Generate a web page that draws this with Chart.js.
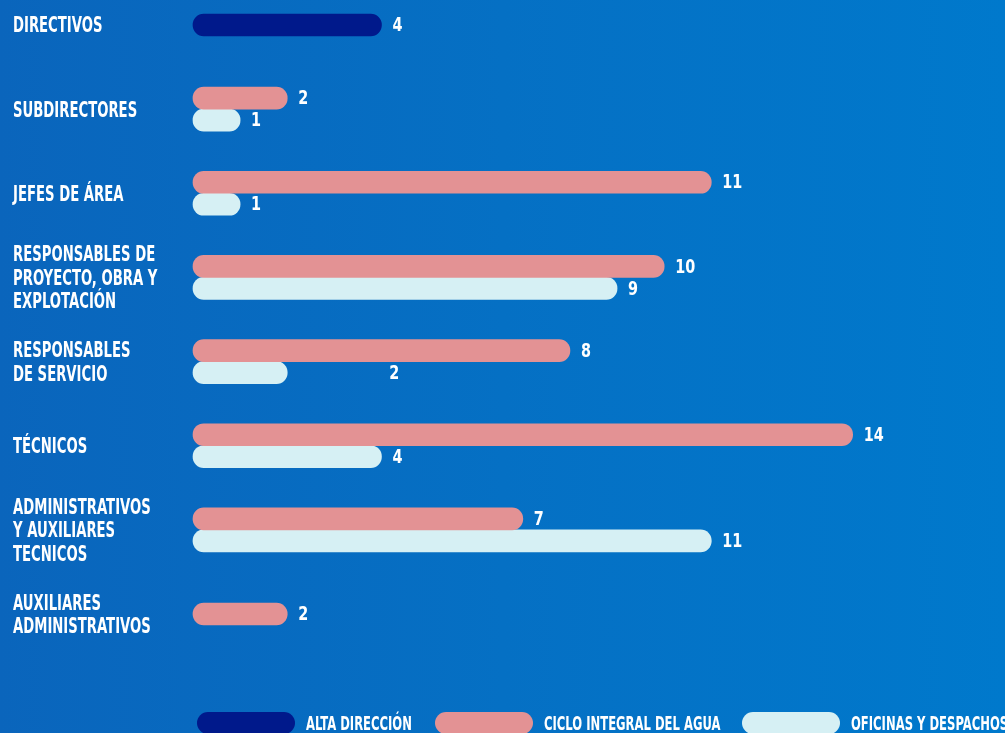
<!DOCTYPE html>
<html lang="es">
<head>
<meta charset="utf-8">
<title>Plantilla por categoría profesional</title>
<script src="https://cdn.jsdelivr.net/npm/chart.js@4.4.1/dist/chart.umd.min.js"></script>
<style>
  html, body {
    margin: 0;
    padding: 0;
    overflow: hidden;
  }
  body {
    width: 1005px;
    height: 733px;
    background: linear-gradient(90deg, #0a65bc 0%, #0570c4 50%, #0079cc 100%);
    font-family: "DejaVu Sans Condensed", "DejaVu Sans", sans-serif;
    font-weight: bold;
    position: relative;
  }
  #wrap {
    position: absolute;
    left: 0;
    top: 0;
    width: 1005px;
    height: 733px;
  }
  #legend {
    position: absolute;
    top: 712px;
    left: 0;
    width: 1005px;
    height: 30px;
  }
  .item {
    position: absolute;
    top: 0;
    display: flex;
    align-items: center;
    white-space: nowrap;
  }
  .pill {
    width: 98px;
    height: 22px;
    border-radius: 11px;
    margin-right: 11px;
  }
  .item span {
    color: #ffffff;
    font-size: 20px;
    line-height: 22px;
    display: inline-block;
    transform: scaleX(0.645);
    transform-origin: 0 50%;
  }
</style>
</head>
<body>
<div id="wrap"><canvas id="chart" width="1005" height="733"></canvas></div>
<div id="legend"></div>
<script>
// categorías profesionales (etiquetas en varias líneas)
const categories = [
    ['DIRECTIVOS'],
    ['SUBDIRECTORES'],
    ['JEFES DE ÁREA'],
    ['RESPONSABLES DE', 'PROYECTO, OBRA Y', 'EXPLOTACIÓN'],
    ['RESPONSABLES', 'DE SERVICIO'],
    ['TÉCNICOS'],
    ['ADMINISTRATIVOS', 'Y AUXILIARES', 'TECNICOS'],
    ['AUXILIARES', 'ADMINISTRATIVOS']
];

const seriesNames = ['ALTA DIRECCIÓN', 'CICLO INTEGRAL DEL AGUA', 'OFICINAS Y DESPACHOS'];

// número de personas por área
const altaDireccion = [4, null, null, null, null, null, null, null];
const cicloAgua = [null, 2, 11, 10, 8, 14, 7, 2];
const oficinas = [null, 1, 1, 9, 2, 4, 11, null];

const colors = ['#00198b', '#e39294', '#d6f0f4'];
const legendLeft = [197, 435, 742];

const FONT = '"DejaVu Sans Condensed", "DejaVu Sans", sans-serif';

// texto estrechado horizontalmente (tipografía condensada)
function condensedText(ctx, text, x, y, sx) {
    ctx.save();
    ctx.translate(x, y);
    ctx.scale(sx, 1);
    ctx.fillText(text, 0, 0);
    ctx.restore();
}

// etiquetas de categoría alineadas a la izquierda, centradas en cada tick
const categoryLabels = {
    id: 'categoryLabels',
    afterDraw(chart) {
        const ctx = chart.ctx;
        const y = chart.scales.y;
        const lineH = 23.5;
        ctx.save();
        ctx.fillStyle = '#ffffff';
        ctx.font = 'bold 21px ' + FONT;
        ctx.textAlign = 'left';
        ctx.textBaseline = 'middle';
        chart.data.labels.forEach((lines, i) => {
            const cy = y.getPixelForTick(i);
            const top = cy - (lines.length - 1) * lineH / 2;
            lines.forEach((line, k) => {
                condensedText(ctx, line, y.left, top + k * lineH + 2, 0.7);
            });
        });
        ctx.restore();
    }
};

// etiqueta del valor al final de cada barra
const valueLabels = {
    id: 'valueLabels',
    afterDatasetsDraw(chart) {
        const ctx = chart.ctx;
        ctx.save();
        ctx.fillStyle = '#ffffff';
        ctx.font = 'bold 20px ' + FONT;
        ctx.textAlign = 'left';
        ctx.textBaseline = 'middle';
        chart.data.datasets.forEach((ds, i) => {
            const meta = chart.getDatasetMeta(i);
            meta.data.forEach((bar, j) => {
                const v = ds.data[j];
                if (v === null || v === undefined) return;
                // el "2" de oficinas en responsables de servicio va desplazado
                const shift = (i === 2 && j === 4) ? 102 : 11;
                condensedText(ctx, String(v), bar.x + shift, bar.y + 1, 0.8);
            });
        });
        ctx.restore();
    }
};

const datasets = [altaDireccion, cicloAgua, oficinas].map((values, i) => ({
    label: seriesNames[i],
    data: values,
    backgroundColor: colors[i],
    borderWidth: 0,
    borderRadius: 11,
    borderSkipped: false,
    barThickness: 22,
    clip: false
}));

const chart = new Chart(document.getElementById('chart'), {
    type: 'bar',
    data: { labels: categories, datasets },
    options: {
        indexAxis: 'y',
        responsive: false,
        animation: false,
        skipNull: true,
        layout: { padding: { left: 13, top: 25, right: 11, bottom: 119 } },
        scales: {
            x: {
                display: false,
                min: 0,
                max: 17
            },
            y: {
                offset: false,
                grid: { display: false },
                border: { display: false },
                afterFit(scale) { scale.width = 180; },
                ticks: { display: false }
            }
        },
        plugins: {
            legend: { display: false },
            tooltip: { enabled: false }
        }
    },
    plugins: [valueLabels, categoryLabels]
});

// leyenda en HTML a partir de los datasets
const legendEl = document.getElementById('legend');
chart.data.datasets.forEach((ds, i) => {
    const item = document.createElement('div');
    item.className = 'item';
    item.style.left = legendLeft[i] + 'px';
    const pill = document.createElement('div');
    pill.className = 'pill';
    pill.style.background = ds.backgroundColor;
    const text = document.createElement('span');
    text.textContent = ds.label;
    item.appendChild(pill);
    item.appendChild(text);
    legendEl.appendChild(item);
});
</script>
</body>
</html>
